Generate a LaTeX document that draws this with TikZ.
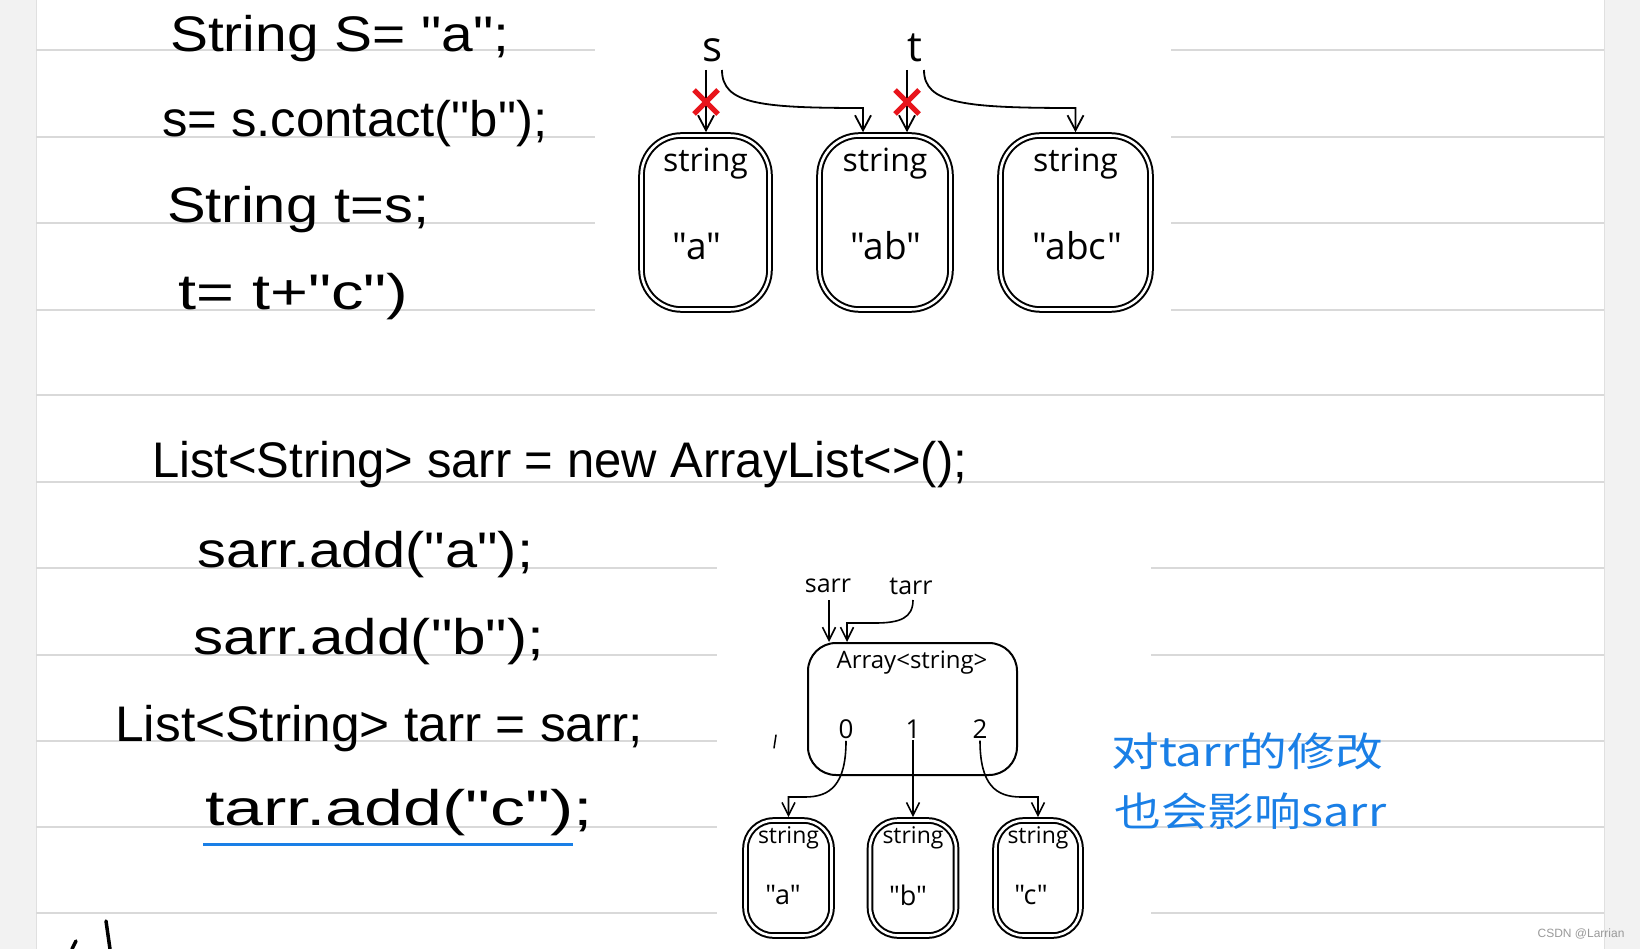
\documentclass[tikz,border=0pt]{standalone}
\usepackage{fontspec}
\usepackage{graphicx}
\setmainfont{Open Sans}[Ligatures=TeXOff]
\newfontfamily\hand{Liberation Sans}
\newfontfamily\cjkf{Noto Sans CJK SC}
\newfontfamily\wmf{Liberation Sans}
\usetikzlibrary{arrows.meta}
\definecolor{rulec}{HTML}{D9D9D9}
\definecolor{marginc}{HTML}{F2F2F2}
\definecolor{inkblue}{HTML}{1A7FE6}
\definecolor{xred}{HTML}{E8141B}
\definecolor{wmgray}{HTML}{9A9A9A}
\newcommand{\hw}[2]{\resizebox{#1pt}{\height}{\hand\fontsize{50}{55}\selectfont #2}}
\newcommand{\fs}[1]{\fontsize{#1}{#1}\selectfont}
\tikzset{
  dbox/.style={draw, double, double distance=2.6pt, line width=2pt, fill=white, inner sep=0pt, outer sep=3.3pt},
  abox/.style={draw, line width=2pt, rounded corners=28pt, inner sep=0pt, outer sep=1pt, fill=white},
  arr/.style={line width=1.8pt, -{Straight Barb[length=15pt,width=16pt]}},
  arrs/.style={line width=1.6pt, -{Straight Barb[length=13pt,width=13pt]}},
  hwnode/.style={anchor=base west, inner sep=0pt},
  lab/.style={inner sep=0pt},
  ruled/.style={draw=rulec, line width=2pt},
  xmark/.style={draw=xred, line width=5pt},
}
\begin{document}
\begin{tikzpicture}[x=1pt,y=-1pt]
\useasboundingbox (0,0) rectangle (1640,949);
\fill[white] (0,0) rectangle (1640,949);
% margins
\fill[marginc] (0,0) rectangle (36,949);
\fill[marginc] (1604,0) rectangle (1640,949);
\draw[black!12, line width=1pt] (36,0) -- (36,949);
\draw[black!12, line width=1pt] (1604,0) -- (1604,949);
% ruled lines
\foreach \yy in {50,137,223,310} {
  \draw[ruled] (36,\yy) -- (595,\yy);
  \draw[ruled] (1171,\yy) -- (1604,\yy);
}
\foreach \yy in {395,482} {
  \draw[ruled] (36,\yy) -- (1604,\yy);
}
\foreach \yy in {568,655,741,827,913} {
  \draw[ruled] (36,\yy) -- (717,\yy);
  \draw[ruled] (1151,\yy) -- (1604,\yy);
}
% handwritten code, top
\node[hwnode] (c1) at (170,52) {\hw{339}{String S= "a";}};
\node[hwnode] (c2) at (162,137) {\hw{385}{s= s.contact("b");}};
\node[hwnode] (c3) at (167,223) {\hw{262}{String t=s;}};
\node[hwnode] (c4) at (178,310) {\hw{230}{t= t+"c")}};
% handwritten code, bottom
\node[hwnode] (c5) at (152,477) {\hw{815}{List<String> sarr = new ArrayList<>();}};
\node[hwnode] (c6) at (197,567) {\hw{336}{sarr.add("a");}};
\node[hwnode] (c7) at (193,654) {\hw{351}{sarr.add("b");}};
\node[hwnode] (c8) at (115,741) {\hw{528}{List<String> tarr = sarr;}};
\node[hwnode] (c9) at (205,825) {\hw{388}{tarr.add("c");}};
\draw[inkblue, line width=3pt] (203,844) -- (573,844);
% stray marks
\draw[line width=3.5pt, line cap=round] (72,949) -- (76,941);
\draw[line width=3.5pt, line cap=round] (106,921) -- (110,949);
\draw[line width=1.5pt, line cap=round] (776,735) -- (774,748);
% top diagram
\node[lab, font=\fs{42}] (ls) at (713,50) {s};
\node[lab, font=\fs{42}] (lt) at (915,48) {t};
\node[dbox, rounded corners=40pt, minimum width=128pt, minimum height=174pt] (b1) at (705.5,222.5) {};
\node[dbox, rounded corners=40pt, minimum width=131pt, minimum height=174pt] (b2) at (885,222.5) {};
\node[dbox, rounded corners=40pt, minimum width=150pt, minimum height=174pt] (b3) at (1075.5,222.5) {};
\node[lab, font=\fs{32}] (b1t) at (705.5,164) {string};
\node[lab, font=\fs{32}] (b2t) at (885,164) {string};
\node[lab, font=\fs{32}] (b3t) at (1075.5,164) {string};
\node[lab, font=\fs{37}] (b1v) at (697,246) {"a"};
\node[lab, font=\fs{37}] (b2v) at (886,246) {"ab"};
\node[lab, font=\fs{37}] (b3v) at (1077,246) {"abc"};
\coordinate (s1) at (706,70);
\coordinate (s2) at (722,70);
\coordinate (t1) at (907,70);
\coordinate (t2) at (924,70);
\coordinate (s2b) at (863,108);
\coordinate (t2b) at (1075.5,108);
\draw[arr] (s1) -- (s1 |- b1.north);
\draw[arr] (s2) .. controls (722,104) and (760,108) .. (s2b) -- (s2b |- b2.north);
\draw[arr] (t1) -- (t1 |- b2.north);
\draw[arr] (t2) .. controls (924,104) and (965,108) .. (t2b) -- (t2b |- b3.north);
\draw[xmark] (694,90) -- (718,114) (694,114) -- (718,90);
\draw[xmark] (895,90) -- (919,114) (895,114) -- (919,90);
% bottom diagram
\node[lab, font=\fs{25}] (lsa) at (828,586) {sarr};
\node[lab, font=\fs{25}] (lta) at (911,586) {tarr};
\node[abox, minimum width=209pt, minimum height=132pt] (ab) at (912.5,709) {};
\node[lab, font=\fs{24}] (abt) at (912,663) {Array<string>};
\node[lab, font=\fs{26}, inner sep=2pt] (d0) at (846,729) {0};
\node[lab, font=\fs{26}, inner sep=2pt] (d1) at (913,729) {1};
\node[lab, font=\fs{26}, inner sep=2pt] (d2) at (980,729) {2};
\node[dbox, rounded corners=28pt, minimum width=86pt, minimum height=115pt] (sb1) at (788.5,878) {};
\node[dbox, rounded corners=28pt, minimum width=86pt, minimum height=115pt] (sb2) at (913,878) {};
\node[dbox, rounded corners=28pt, minimum width=85pt, minimum height=115pt] (sb3) at (1038,878) {};
\node[lab, font=\fs{23}] (sb1t) at (788.5,838) {string};
\node[lab, font=\fs{23}] (sb2t) at (913,838) {string};
\node[lab, font=\fs{23}] (sb3t) at (1038,838) {string};
\node[lab, font=\fs{27}] (sb1v) at (783,895) {"a"};
\node[lab, font=\fs{27}] (sb2v) at (908,895) {"b"};
\node[lab, font=\fs{27}] (sb3v) at (1031,895) {"c"};
\coordinate (sa1) at (829,600);
\coordinate (ta1) at (913,600);
\coordinate (ta2) at (847,623);
\coordinate (e0) at (788.5,797);
\coordinate (e2) at (1038,797);
\draw[arrs] (sa1) -- (sa1 |- ab.north);
\draw[arrs] (ta1) .. controls (913,618) and (900,623) .. (875,623) -- (ta2) -- (ta2 |- ab.north);
\draw[arrs] (d0.south) .. controls (846,785) and (830,797) .. (805,797) -- (e0) -- (sb1.north);
\draw[arrs] (d1.south) -- (sb2.north);
\draw[arrs] (d2.south) .. controls (980,785) and (996,797) .. (1021,797) -- (e2) -- (sb3.north);
% blue note
\node[anchor=west, inner sep=0pt, text=inkblue] (n1) at (1111,751) {\resizebox{272pt}{\height}{\cjkf\fontsize{40}{44}\selectfont 对tarr的修改}};
\node[anchor=west, inner sep=0pt, text=inkblue] (n2) at (1114,811) {\resizebox{272pt}{\height}{\cjkf\fontsize{40}{44}\selectfont 也会影响sarr}};
% watermark
\node[lab, font=\wmf\fs{12}, text=wmgray] (wm) at (1581,934) {CSDN @Larrian};
\end{tikzpicture}
\end{document}
